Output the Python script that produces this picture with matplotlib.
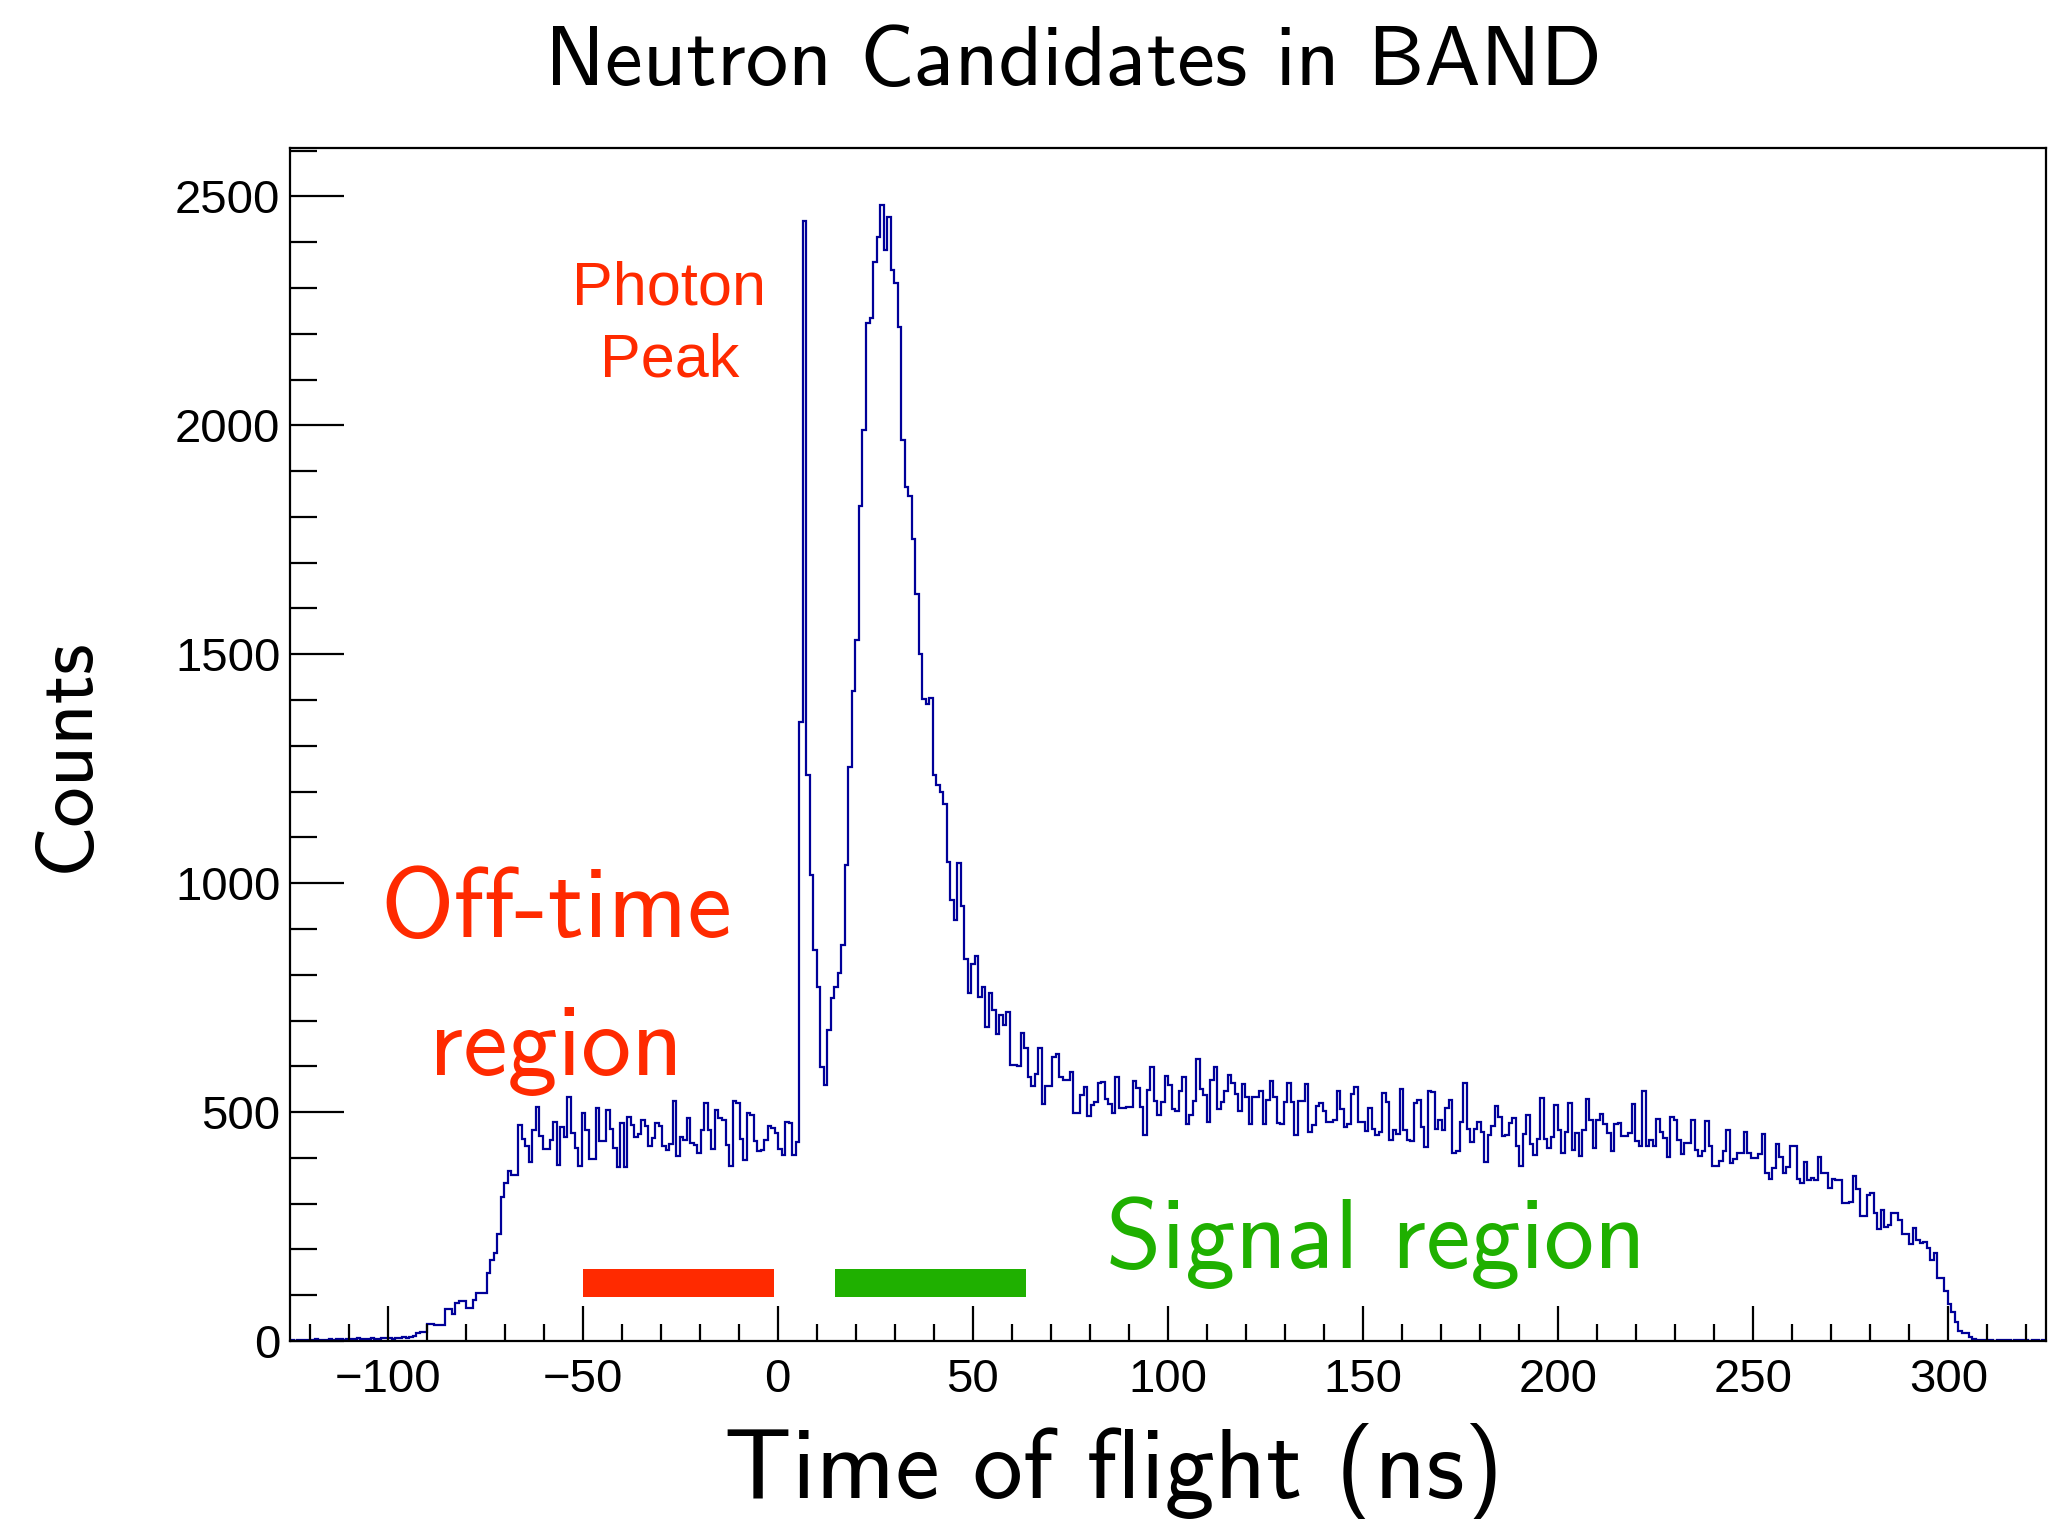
import numpy as np
import matplotlib
matplotlib.use("Agg")
import matplotlib.pyplot as plt
from matplotlib.ticker import MultipleLocator

# ---------------- data ----------------
bin_lo = -125.0      # ns, left edge of first bin
bin_width = 0.9      # ns

counts_lead = [2, 1, 3, 2, 2, 3, 2, 4, 3, 2, 3, 4, 3, 5, 4, 3, 4, 5, 4, 6, 5, 4, 5, 6,
               5, 4, 6, 7, 6, 5, 7, 6, 8, 7, 9, 11]
counts_rise = [17, 20, 20, 37, 37, 34, 34, 34, 70, 69, 58, 84, 88, 88, 71, 71]
counts_off1 = [90, 104, 104, 104, 149, 177, 192, 233, 315, 346, 372, 363, 363, 472, 441,
               425, 392, 461, 512, 448, 419, 419, 439, 479, 385, 468, 446, 534, 454, 421,
               382, 497, 461, 397, 397, 508, 436, 436, 505, 462, 421, 381, 476]
counts_off2 = [381, 490, 472, 446, 452, 483, 470, 425, 443, 476, 470, 425, 418, 430, 525,
               403, 445, 440, 487, 432, 428, 410, 461, 519, 461, 419, 505, 487, 482, 428,
               382, 525, 520, 441, 395, 499, 494, 436, 414, 418, 439, 470, 466]
counts_pre_photon = [455, 420, 406, 479, 476, 406, 435]
counts_photon = [1351, 2446, 1237, 1018, 854, 773, 599, 559, 679, 749, 773, 803, 865, 1040]
counts_peak = [1253, 1420, 1532, 1823, 1989, 2223, 2234, 2356, 2411, 2482, 2384, 2455,
               2340, 2311, 2215, 1967, 1865, 1845, 1752, 1631, 1501, 1402, 1392, 1404,
               1237, 1214, 1200, 1173]
counts_tail = [1047, 963, 920, 1043, 950, 834, 761, 824, 840, 751, 774, 686, 761, 722,
               671, 712, 690, 719, 603, 603, 600, 672, 639, 577, 557, 583, 639, 518, 557,
               557, 621, 627, 576, 570, 570, 588, 499]
counts_sig1 = [497, 537, 554, 492, 516, 523, 564, 566, 528, 518,
               497, 576, 508, 508, 511, 511, 567, 552, 510, 450,
               549, 599, 525, 494, 522, 579, 559, 506, 503, 546,
               576, 475, 494, 524, 617, 551, 537, 479, 570, 599,
               506, 522, 546, 581, 564, 539, 503, 561, 534, 475,
               532, 532, 545, 474, 526, 568, 534, 477, 474, 522,
               563, 522, 450, 525, 525, 561, 457, 472, 513, 519,
               503, 479, 479, 483, 546, 506, 468, 474, 539, 555,
               479, 479, 459, 509, 462, 450, 457, 541, 523, 440,
               461, 453, 551, 461, 440, 436, 519, 526, 467, 424,
               546, 543, 462, 483, 461, 509, 526, 410, 416, 479,
               564, 462, 434, 464, 479, 457, 392, 450, 470, 513,
               490, 448, 450, 477, 487, 426, 383, 453, 494, 431,
               406, 441, 530, 441, 421, 446]
counts_sig2 = [516, 461, 411, 457, 519, 417, 454, 404, 461, 528, 483, 421, 483, 496, 474,
               455, 414, 474, 477, 448, 448, 454, 518, 437, 425]
counts_sig3 = [545, 425, 439, 425, 485, 457, 444, 402, 489, 483, 439, 408, 432, 433, 482,
               417, 404, 414, 480, 425, 382, 382, 394, 414, 461, 389, 397, 411, 411, 457,
               410, 399, 399, 408, 452, 368, 353, 377, 430, 401, 366, 381, 426, 426, 353,
               346, 392, 352, 355, 352, 401, 368, 368, 334, 353, 352, 352, 301, 301, 304,
               360, 331, 272, 272, 319, 323, 279, 244, 286, 250, 253, 279, 279, 264, 233,
               233, 212, 246, 221, 215, 217, 203, 177, 192, 137, 137]
counts_fall = [110, 81, 64, 42, 22, 18, 18, 9, 4]
counts_trail = [3, 2, 2, 3, 2, 1, 2, 3, 2, 2, 1, 2, 2, 3, 2, 1, 2, 2, 1, 2]

counts = np.array(counts_lead + counts_rise + counts_off1 + counts_off2 +
                  counts_pre_photon + counts_photon + counts_peak + counts_tail +
                  counts_sig1 + counts_sig2 + counts_sig3 + counts_fall + counts_trail,
                  dtype=float)

x_limits = (-125, 325)
y_limits = (0, 2606)
offtime_range = (-50.0, -0.9)
signal_range = (14.6, 63.7)
band_counts = (96, 157)

title = "Neutron Candidates in BAND"
xlabel = "Time of flight (ns)"
ylabel = "Counts"

# ---------------- figure ----------------
CM = "cmss10"
TICKFONT = "Liberation Sans"
RED = "#ff2a00"
GREEN = "#1fb000"

fig = plt.figure(figsize=(20.6, 15.19), dpi=100)
ax = fig.add_axes([0.1408, 0.1172, 0.8524, 0.7854])

edges = bin_lo + bin_width * np.arange(len(counts) + 1)
ax.stairs(counts, edges, color="#000099", lw=1.6, baseline=0)

ax.fill_between(offtime_range, band_counts[0], band_counts[1], color=RED, lw=0)
ax.fill_between(signal_range, band_counts[0], band_counts[1], color=GREEN, lw=0)

ax.set_xlim(*x_limits)
ax.set_ylim(*y_limits)

ax.xaxis.set_major_locator(MultipleLocator(50))
ax.xaxis.set_minor_locator(MultipleLocator(10))
ax.yaxis.set_major_locator(MultipleLocator(500))
ax.yaxis.set_minor_locator(MultipleLocator(100))

ax.tick_params(which="both", direction="in", top=False, right=False, width=1.6,
               color="black")
ax.tick_params(axis="x", which="major", length=25, pad=12)
ax.tick_params(axis="x", which="minor", length=12.5)
ax.tick_params(axis="y", which="major", length=39, pad=7)
ax.tick_params(axis="y", which="minor", length=19.5)

for lab in ax.get_xticklabels() + ax.get_yticklabels():
    lab.set_fontfamily(TICKFONT)
    lab.set_fontsize(34)

for sp in ax.spines.values():
    sp.set_linewidth(1.6)

# annotations
ax.text(-27.8, 2263, "Photon", color=RED, fontsize=44, family=TICKFONT,
        ha="center", va="baseline")
ax.text(-27.8, 2106, "Peak", color=RED, fontsize=44, family=TICKFONT,
        ha="center", va="baseline")
ax.text(-56.8, 883, "Off-time", color=RED, fontsize=72, family=CM,
        ha="center", va="baseline")
ax.text(-56.8, 582, "region", color=RED, fontsize=72, family=CM,
        ha="center", va="baseline")
ax.text(153.3, 159, "Signal region", color=GREEN, fontsize=72, family=CM,
        ha="center", va="baseline")

fig.text(1073 / 2060, 1 - 85 / 1519, title, fontsize=61, family=CM,
         ha="center", va="baseline")
fig.text(1114 / 2060, 1 - 1498 / 1519, xlabel, fontsize=72, family=CM,
         ha="center", va="baseline")
fig.text(68 / 2060, 1 - 755 / 1519, ylabel, fontsize=58, family=CM,
         rotation=90, ha="center", va="center")

fig.savefig("out.png", dpi=100)
